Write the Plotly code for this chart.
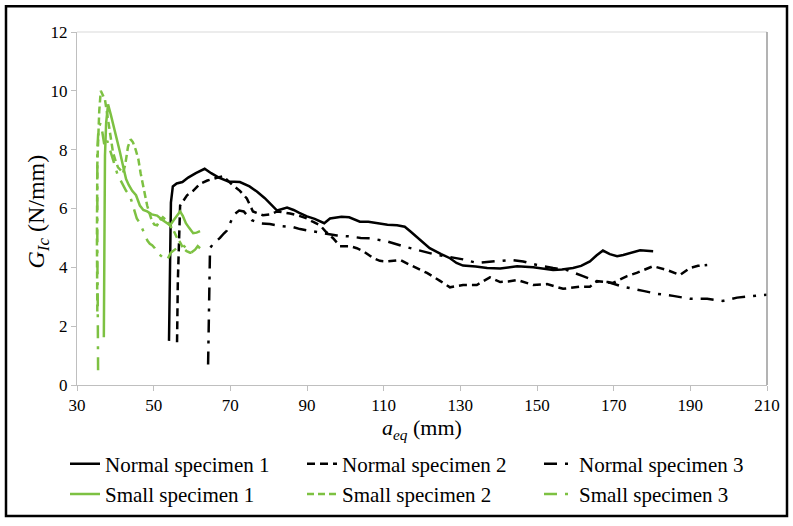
import plotly.graph_objects as go

# ---- data ----
n1_x = [54.0, 54.2, 54.5, 55.0, 56.0, 57.5, 59.0, 61.0, 63.3, 65.0, 67.0, 69.5, 72.5, 75.0, 77.0, 79.0, 80.5, 82.2,
        84.8, 86.5, 88.0, 90.0, 92.0, 93.5, 94.5, 96.0, 99.0, 101.0, 103.8, 106.0, 109.0, 111.0, 113.5, 115.5, 117.0,
        119.5, 122.0, 125.0, 127.3, 129.0, 130.7, 134.0, 137.0, 140.4, 144.8, 149.0, 154.2, 156.5, 159.4, 161.5,
        163.8, 165.5, 167.2, 169.0, 170.9, 172.5, 174.3, 176.9, 180.3]
n1_y = [1.5, 4.0, 6.2, 6.75, 6.85, 6.9, 7.05, 7.2, 7.35, 7.2, 7.05, 6.92, 6.9, 6.75, 6.57, 6.35, 6.15, 5.93,
        6.03, 5.95, 5.85, 5.73, 5.65, 5.55, 5.5, 5.66, 5.72, 5.7, 5.55, 5.55, 5.49, 5.45, 5.43, 5.38, 5.22,
        4.95, 4.65, 4.45, 4.31, 4.15, 4.06, 4.03, 3.98, 3.96, 4.04, 4.0, 3.91, 3.93, 3.98, 4.05,
        4.2, 4.4, 4.57, 4.45, 4.38, 4.42, 4.48, 4.58, 4.55]

n2_x = [56.1, 56.3, 56.9, 57.8, 58.7, 60.3, 62.1, 64.0, 65.5, 67.0, 68.1, 70.7, 72.5, 74.3, 75.9, 78.5, 80.5, 82.2,
        85.6, 88.0, 90.0, 91.5, 93.4, 95.0, 96.8, 98.6, 101.2, 103.0, 104.7, 107.3, 109.0, 110.9, 114.3, 116.9,
        119.0, 121.3, 124.7, 127.3, 130.7, 134.3, 137.7, 140.4, 142.5, 144.8, 149.0, 152.6, 156.8, 161.2, 163.8,
        165.6, 169.8, 173.5, 176.0, 180.3, 183.9, 187.3, 189.9, 192.0, 194.4]
n2_y = [1.45, 3.5, 6.1, 6.3, 6.45, 6.6, 6.84, 6.95, 7.0, 7.05, 7.1, 6.78, 6.6, 6.34, 5.9, 5.77, 5.8, 5.9,
        5.83, 5.75, 5.66, 5.55, 5.43, 5.2, 4.99, 4.72, 4.72, 4.65, 4.55, 4.31, 4.22, 4.2, 4.25, 4.08,
        3.95, 3.81, 3.54, 3.32, 3.4, 3.4, 3.66, 3.5, 3.52, 3.57, 3.4, 3.43, 3.27, 3.34, 3.34,
        3.53, 3.47, 3.7, 3.81, 4.04, 3.91, 3.74, 3.98, 4.05, 4.08]

n3_x = [64.2, 64.4, 64.6, 64.7, 65.5, 67.3, 68.3, 69.1, 69.9, 71.0, 72.3, 73.5, 74.5, 75.6, 77.7, 80.3, 83.5, 86.3,
        88.2, 91.6, 94.2, 96.0, 97.8, 101.2, 104.0, 106.4, 110.9, 115.0, 119.5, 123.9, 127.3, 130.7, 134.3, 138.5,
        143.0, 146.4, 150.0, 154.2, 157.8, 162.0, 165.5, 168.5, 172.5, 177.7, 181.3, 185.5, 189.9, 194.4, 198.5,
        202.2, 206.4, 210.0]
n3_y = [0.7, 2.5, 4.0, 4.65, 4.8, 5.0, 5.15, 5.25, 5.49, 5.8, 5.93, 5.9, 5.75, 5.6, 5.5, 5.47, 5.4, 5.37,
        5.3, 5.22, 5.18, 5.14, 5.08, 5.05, 5.0, 4.99, 4.88, 4.72, 4.58, 4.42, 4.35, 4.27, 4.15, 4.2,
        4.25, 4.2, 4.08, 3.98, 3.91, 3.7, 3.52, 3.5, 3.34, 3.2, 3.1, 3.03, 2.93, 2.93, 2.86,
        2.97, 3.03, 3.07]

s1_x = [37.0, 37.1, 37.3, 37.6, 38.1, 38.8, 39.6, 40.5, 41.2, 42.0, 42.8, 43.5, 44.4, 45.4, 46.4, 47.3, 48.3, 49.5,
        50.9, 52.2, 53.5, 54.3, 55.2, 56.1, 56.9, 57.6, 58.4, 59.2, 60.3, 61.2, 62.1]
s1_y = [1.62, 5.0, 7.8, 8.9, 9.54, 9.2, 8.8, 8.3, 7.92, 7.45, 7.0, 6.8, 6.6, 6.45, 6.1, 5.95, 5.9, 5.8,
        5.76, 5.62, 5.5, 5.43, 5.6, 5.76, 5.9, 5.75, 5.5, 5.35, 5.16, 5.18, 5.23]

s2_x = [35.3, 35.2, 35.3, 35.5, 35.8, 36.2, 36.8, 37.3, 37.8, 38.6, 39.4, 40.1, 40.7, 41.4, 42.0, 42.6, 43.3, 44.0,
        44.6, 45.3, 46.0, 46.6, 47.2, 47.8, 48.3, 49.0, 49.6, 50.2, 50.9, 51.7, 52.4, 53.3, 54.3, 55.2, 56.1, 56.9,
        57.7, 58.6, 59.5, 60.3]
s2_y = [2.5, 5.0, 7.5, 8.6, 9.3, 10.0, 9.85, 9.7, 9.27, 8.6, 7.9, 7.6, 7.4, 7.3, 7.2, 7.5, 8.1, 8.35,
        8.25, 8.0, 7.68, 7.2, 6.78, 6.4, 6.1, 5.8, 5.56, 5.45, 5.43, 5.6, 5.7, 5.6, 5.43, 5.25, 5.0, 4.85,
        4.65, 4.55, 4.5, 4.5]

s3_x = [35.5, 35.5, 35.4, 35.3, 35.2, 35.3, 35.6, 36.1, 36.6, 37.2, 37.9, 38.6, 39.4, 40.0, 40.7, 41.4, 42.0, 42.8,
        43.8, 44.6, 45.6, 46.4, 47.0, 47.7, 48.4, 49.0, 49.6, 50.3, 51.1, 52.3, 53.5, 54.5, 55.5, 56.5, 57.7, 58.8,
        59.8, 60.8, 61.5, 62.1]
s3_y = [0.5, 1.6, 3.0, 4.5, 6.5, 8.0, 8.7, 8.9, 8.6, 8.1, 8.3, 8.0, 7.68, 7.4, 7.1, 6.95, 6.78, 6.6,
        6.44, 6.1, 5.66, 5.5, 5.33, 5.1, 4.9, 4.8, 4.75, 4.65, 4.48, 4.35, 4.25, 4.5, 4.6, 4.7, 4.75, 4.6,
        4.5, 4.6, 4.72, 4.65]

x_ticks = [30, 50, 70, 90, 110, 130, 150, 170, 190, 210]
y_ticks = [0, 2, 4, 6, 8, 10, 12]

names = ["Normal specimen 1", "Normal specimen 2", "Normal specimen 3",
         "Small specimen 1", "Small specimen 2", "Small specimen 3"]

BLACK = "#000000"
GREEN = "#7dc142"
SERIF = "Liberation Serif"

series = [
    (n1_x, n1_y, BLACK, "solid"),
    (n2_x, n2_y, BLACK, "8px,5px"),
    (n3_x, n3_y, BLACK, "13px,8px,3px,8px"),
    (s1_x, s1_y, GREEN, "solid"),
    (s2_x, s2_y, GREEN, "7px,4px"),
    (s3_x, s3_y, GREEN, "13px,8px,3px,8px"),
]

fig = go.Figure()
for (xs, ys, col, dash), nm in zip(series, names):
    fig.add_trace(go.Scatter(x=xs, y=ys, mode="lines", name=nm,
                             line=dict(color=col, width=2.5, dash=dash)))

W, H = 793, 526
L, R, T, B = 77, 26, 32, 138
pw, ph = W - L - R, H - T - B

def px2x(p):
    return (p - L) / pw

def px2y(p):
    return (H - B - p) / ph

axis_common = dict(showgrid=False, zeroline=False, showline=True, linecolor="#bfbfbf", linewidth=1,
                   ticks="outside", ticklen=5, tickcolor="#bfbfbf",
                   tickfont=dict(family=SERIF, size=17, color="black"))

fig.update_layout(
    width=W, height=H, autosize=False,
    margin=dict(l=L, r=R, t=T, b=B, pad=0),
    paper_bgcolor="white", plot_bgcolor="white",
    xaxis=dict(range=[30, 210], tickmode="array", tickvals=x_ticks, **axis_common),
    yaxis=dict(range=[0, 12], tickmode="array", tickvals=y_ticks, **axis_common),
    showlegend=True,
    legend=dict(orientation="h", x=px2x(65), y=px2y(447), xanchor="left", yanchor="top",
                entrywidth=192, entrywidthmode="pixels", itemwidth=30,
                font=dict(family=SERIF, size=21, color="black"), bgcolor="rgba(0,0,0,0)",
                traceorder="normal"),
    shapes=[
        dict(type="line", xref="paper", yref="paper", x0=0, x1=1, y0=1, y1=1,
             line=dict(color="#d9d9d9", width=1)),
        dict(type="line", xref="paper", yref="paper", x0=1, x1=1, y0=0, y1=1,
             line=dict(color="#9a9a9a", width=1.5)),
        dict(type="rect", xref="paper", yref="paper",
             x0=px2x(6), x1=px2x(787), y0=px2y(520), y1=px2y(6),
             line=dict(color="black", width=2.5)),
    ],
    annotations=[
        dict(text="<i>G</i><sub><i>Ic</i></sub> (N/mm)", xref="paper", yref="paper",
             x=px2x(38), y=px2y(213), textangle=-90, showarrow=False,
             xanchor="center", yanchor="middle", font=dict(family=SERIF, size=24, color="black")),
        dict(text="<i>a</i><sub><i>eq</i></sub> (mm)", xref="paper", yref="paper",
             x=px2x(422), y=px2y(432), showarrow=False,
             xanchor="center", yanchor="middle", font=dict(family=SERIF, size=22, color="black")),
    ],
)

fig.write_html("out.html")
